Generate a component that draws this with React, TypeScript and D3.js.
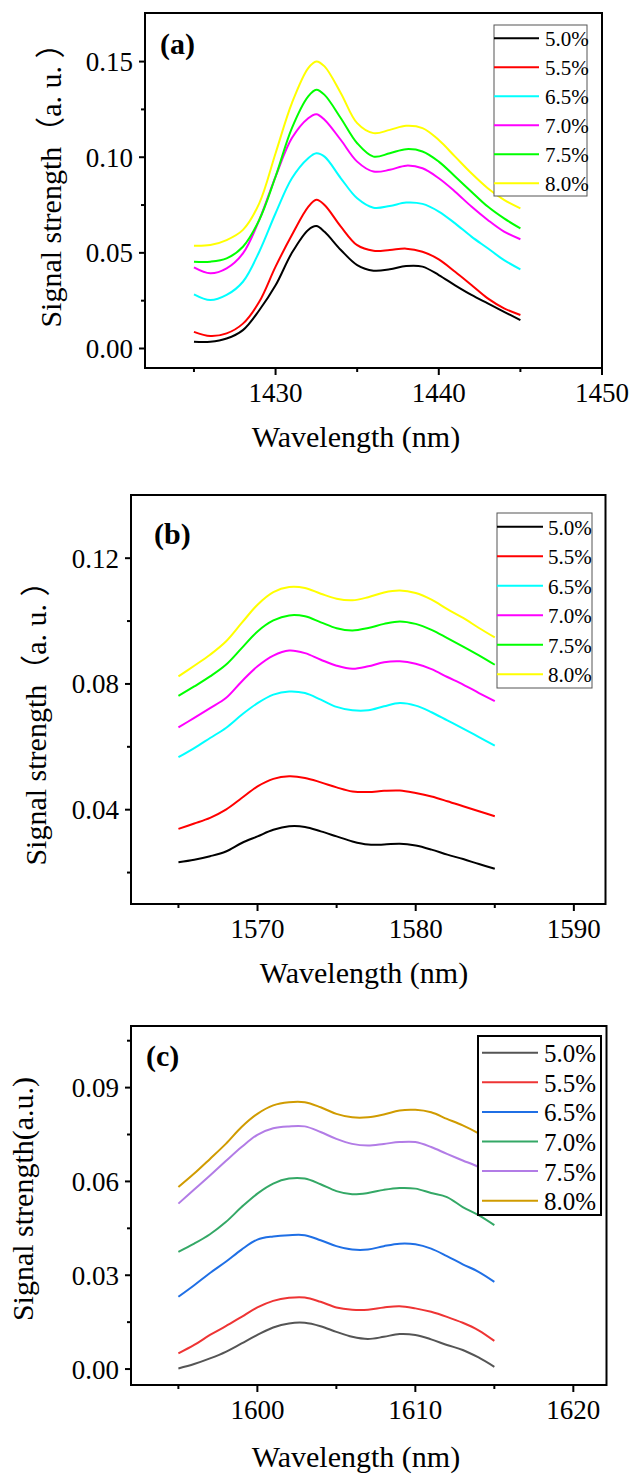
import React from 'react';
import * as d3 from 'd3';

// legend labels (same for every panel)
const concentrations = ['5.0%', '5.5%', '6.5%', '7.0%', '7.5%', '8.0%'];
const colorsAB = ['#000000', '#ff0000', '#00ffff', '#ff00ff', '#00ff00', '#ffff00'];
const colorsC = ['#555555', '#ee3434', '#1f6fe5', '#34a866', '#b27ce6', '#d09b00'];

// panel (a) 1425-1445 nm
const wavelengthA = [1425, 1426, 1427, 1428, 1429, 1430, 1431, 1432, 1432.5, 1433, 1434, 1435, 1436, 1437, 1438, 1439, 1440, 1441, 1442, 1443, 1444, 1445];
const a50 = [0.0035, 0.0035, 0.0052, 0.0096, 0.020, 0.033, 0.050, 0.062, 0.064, 0.061, 0.0515, 0.0436, 0.0407, 0.0414, 0.0431, 0.0428, 0.0384, 0.033, 0.028, 0.0236, 0.0192, 0.0148];
const a55 = [0.0087, 0.0065, 0.0079, 0.013, 0.0244, 0.0428, 0.0593, 0.074, 0.0777, 0.075, 0.0637, 0.054, 0.0511, 0.0515, 0.0522, 0.0506, 0.0466, 0.0401, 0.0332, 0.0262, 0.021, 0.0175];
const a65 = [0.0283, 0.0253, 0.028, 0.0349, 0.0506, 0.0707, 0.089, 0.0995, 0.1021, 0.1003, 0.089, 0.0785, 0.0736, 0.0745, 0.0763, 0.0756, 0.0716, 0.0654, 0.0585, 0.0524, 0.0462, 0.0414];
const a70 = [0.0424, 0.0393, 0.0419, 0.0497, 0.0672, 0.0899, 0.11, 0.1204, 0.1225, 0.1196, 0.109, 0.0977, 0.0925, 0.0934, 0.0956, 0.0942, 0.089, 0.082, 0.0742, 0.0672, 0.0611, 0.0571];
const a75 = [0.0454, 0.0454, 0.0471, 0.0532, 0.0672, 0.0899, 0.1152, 0.1318, 0.1353, 0.1326, 0.1204, 0.1073, 0.1003, 0.1021, 0.1042, 0.103, 0.0977, 0.0899, 0.082, 0.0742, 0.068, 0.0628];
const a80 = [0.0537, 0.0541, 0.0567, 0.062, 0.0759, 0.1021, 0.1283, 0.1466, 0.1501, 0.1475, 0.1335, 0.1178, 0.1126, 0.1143, 0.1164, 0.1152, 0.109, 0.1003, 0.0916, 0.0838, 0.0777, 0.0733];

// panel (b) 1565-1585 nm
const wavelengthB = d3.range(1565, 1586);
const b50 = [0.0233, 0.0241, 0.0252, 0.0267, 0.0294, 0.0315, 0.0336, 0.0347, 0.0345, 0.0331, 0.0315, 0.0299, 0.0289, 0.0289, 0.0292, 0.0286, 0.0273, 0.0257, 0.0243, 0.0227, 0.0212];
const b55 = [0.0339, 0.0356, 0.0374, 0.04, 0.0437, 0.0474, 0.0498, 0.0506, 0.0501, 0.0487, 0.0471, 0.0458, 0.0456, 0.046, 0.0461, 0.0453, 0.0442, 0.0427, 0.0411, 0.0395, 0.0379];
const b65 = [0.0567, 0.0596, 0.0628, 0.066, 0.0702, 0.0739, 0.0766, 0.0776, 0.0771, 0.075, 0.0727, 0.0716, 0.0716, 0.0729, 0.0739, 0.0731, 0.071, 0.0684, 0.0658, 0.0631, 0.0604];
const b70 = [0.0662, 0.0692, 0.0723, 0.0755, 0.0808, 0.0856, 0.089, 0.0906, 0.0898, 0.0877, 0.0858, 0.0848, 0.0856, 0.0869, 0.0872, 0.0864, 0.0847, 0.0822, 0.0798, 0.0771, 0.0745];
const b75 = [0.0762, 0.0792, 0.0824, 0.0861, 0.0914, 0.0967, 0.1002, 0.1018, 0.1015, 0.0996, 0.0977, 0.097, 0.0978, 0.0991, 0.0999, 0.0991, 0.0972, 0.0946, 0.0919, 0.0891, 0.0861];
const b80 = [0.0824, 0.0858, 0.0893, 0.0935, 0.0994, 0.1052, 0.1092, 0.1108, 0.1105, 0.1087, 0.1071, 0.1066, 0.1076, 0.1091, 0.1097, 0.1089, 0.1068, 0.1038, 0.101, 0.0978, 0.0948];

// panel (c) 1595-1615 nm
const wavelengthC = d3.range(1595, 1616);
const c50 = [0.0002, 0.0016, 0.0034, 0.0055, 0.0082, 0.0109, 0.0133, 0.0146, 0.0148, 0.0137, 0.0119, 0.0103, 0.0096, 0.0103, 0.0112, 0.0109, 0.0095, 0.0077, 0.0061, 0.0037, 0.0007];
const c55 = [0.005, 0.0077, 0.0109, 0.0137, 0.0167, 0.0197, 0.0218, 0.0228, 0.0229, 0.0215, 0.0197, 0.019, 0.019, 0.0197, 0.0201, 0.0194, 0.0183, 0.0167, 0.0148, 0.0124, 0.009];
const c65 = [0.0231, 0.0268, 0.0307, 0.0343, 0.0382, 0.0414, 0.0424, 0.0428, 0.0428, 0.0412, 0.0393, 0.0382, 0.0382, 0.0393, 0.0401, 0.0399, 0.0385, 0.0361, 0.0335, 0.0311, 0.0279];
const c70 = [0.0375, 0.0401, 0.0431, 0.047, 0.0518, 0.0561, 0.0593, 0.0609, 0.0609, 0.0591, 0.0569, 0.0559, 0.0563, 0.0573, 0.0579, 0.0577, 0.0563, 0.055, 0.0518, 0.0492, 0.046];
const c75 = [0.0529, 0.0574, 0.0619, 0.0665, 0.071, 0.0749, 0.077, 0.0776, 0.0776, 0.0758, 0.0736, 0.072, 0.0715, 0.072, 0.0726, 0.0726, 0.071, 0.0688, 0.0667, 0.0646, 0.0614];
const c80 = [0.0582, 0.0625, 0.0672, 0.072, 0.0774, 0.0816, 0.0843, 0.0853, 0.0853, 0.0837, 0.0816, 0.0805, 0.0805, 0.0814, 0.0827, 0.0829, 0.0821, 0.08, 0.0779, 0.0754, 0.0726];

const FONT = "'Liberation Serif', 'Noto Sans CJK SC', serif";

const panels = [
    {
        tag: '(a)', tagPos: [160, 54],
        frame: {left: 145, top: 13, right: 602, bottom: 368},
        xDomain: [1422, 1450], xMajor: [1430, 1440, 1450], xMinor: [1425, 1435, 1445],
        yDomain: [-0.0102, 0.1754], yMajor: [0, 0.05, 0.10, 0.15], yMinor: [0.025, 0.075, 0.125],
        yTitle: 'Signal strength（a. u. ）', yTitlePos: [61, 178],
        xTitlePos: [356, 447],
        wavelength: wavelengthA, series: [a50, a55, a65, a70, a75, a80], colors: colorsAB,
        legend: {x: 494, y: 25, w: 93, h: 171, row0: 38.3, step: 29, lineX0: 494, lineX1: 539, textX: 545, font: 21, border: '#555', borderW: 1},
    },
    {
        tag: '(b)', tagPos: [154, 544],
        frame: {left: 131, top: 495, right: 605.5, bottom: 904},
        xDomain: [1562, 1592], xMajor: [1570, 1580, 1590], xMinor: [1565, 1575, 1585],
        yDomain: [0.010, 0.1401], yMajor: [0.04, 0.08, 0.12], yMinor: [0.02, 0.06, 0.10],
        yTitle: 'Signal strength（a. u. ）', yTitlePos: [46, 716],
        xTitlePos: [364, 983],
        wavelength: wavelengthB, series: [b50, b55, b65, b70, b75, b80], colors: colorsAB,
        legend: {x: 497, y: 513, w: 95, h: 175, row0: 526.7, step: 29.5, lineX0: 497, lineX1: 543, textX: 548, font: 21, border: '#555', borderW: 1},
    },
    {
        tag: '(c)', tagPos: [146, 1066],
        frame: {left: 131, top: 1026, right: 606.5, bottom: 1385},
        xDomain: [1592, 1622.1], xMajor: [1600, 1610, 1620], xMinor: [1595, 1605, 1615],
        yDomain: [-0.0051, 0.1097], yMajor: [0, 0.03, 0.06, 0.09], yMinor: [0.015, 0.045, 0.075, 0.105],
        yTitle: 'Signal strength(a.u.)', yTitlePos: [33, 1199],
        xTitlePos: [356, 1467],
        wavelength: wavelengthC, series: [c50, c55, c65, c70, c75, c80], colors: colorsC,
        legend: {x: 478, y: 1036, w: 123, h: 179, row0: 1052.7, step: 29.6, lineX0: 482, lineX1: 538, textX: 544, font: 25, border: '#000', borderW: 2},
    },
];

function Panel({p}) {
    const f = p.frame;
    const x = d3.scaleLinear().domain(p.xDomain).range([f.left, f.right]);
    const y = d3.scaleLinear().domain(p.yDomain).range([f.bottom, f.top]);
    const line = d3.line()
        .x((d) => x(d[0]))
        .y((d) => y(d[1]))
        .curve(d3.curveCatmullRom.alpha(0.5));
    const fmt = d3.format('.2f');
    const lg = p.legend;

    return (
        <g>
            {/* curves */}
            {p.series.map((vals, i) => (
                <path key={i} d={line(p.wavelength.map((w, j) => [w, vals[j]]))}
                    fill="none" stroke={p.colors[i]} strokeWidth={2} />
            ))}

            {/* frame */}
            <rect x={f.left} y={f.top} width={f.right - f.left} height={f.bottom - f.top}
                fill="none" stroke="#000" strokeWidth={2} />

            {/* x ticks */}
            {p.xMajor.map((t) => (
                <g key={'xm' + t}>
                    <line x1={x(t)} x2={x(t)} y1={f.bottom} y2={f.bottom + 7} stroke="#000" strokeWidth={2} />
                    <text x={x(t)} y={f.bottom + 34} textAnchor="middle" fontSize={27} fontFamily={FONT}>{t}</text>
                </g>
            ))}
            {p.xMinor.map((t) => (
                <line key={'xn' + t} x1={x(t)} x2={x(t)} y1={f.bottom} y2={f.bottom + 4} stroke="#000" strokeWidth={2} />
            ))}

            {/* y ticks */}
            {p.yMajor.map((t) => (
                <g key={'ym' + t}>
                    <line x1={f.left - 6} x2={f.left} y1={y(t)} y2={y(t)} stroke="#000" strokeWidth={2} />
                    <text x={f.left - 12} y={y(t)} dy="0.35em" textAnchor="end" fontSize={27} fontFamily={FONT}>{fmt(t)}</text>
                </g>
            ))}
            {p.yMinor.map((t) => (
                <line key={'yn' + t} x1={f.left - 4} x2={f.left} y1={y(t)} y2={y(t)} stroke="#000" strokeWidth={2} />
            ))}

            {/* titles */}
            <text x={p.xTitlePos[0]} y={p.xTitlePos[1]} textAnchor="middle" fontSize={30} fontFamily={FONT}>Wavelength (nm)</text>
            <text transform={`translate(${p.yTitlePos[0]},${p.yTitlePos[1]}) rotate(-90)`}
                textAnchor="middle" fontSize={30} fontFamily={FONT}>{p.yTitle}</text>
            <text x={p.tagPos[0]} y={p.tagPos[1]} fontSize={30} fontWeight="bold" fontFamily={FONT}>{p.tag}</text>

            {/* legend */}
            <rect x={lg.x} y={lg.y} width={lg.w} height={lg.h} fill="#fff" stroke={lg.border} strokeWidth={lg.borderW} />
            {concentrations.map((c, i) => {
                const ry = lg.row0 + i * lg.step;
                return (
                    <g key={c}>
                        <line x1={lg.lineX0} x2={lg.lineX1} y1={ry} y2={ry} stroke={p.colors[i]} strokeWidth={2} />
                        <text x={lg.textX} y={ry} dy="0.38em" fontSize={lg.font} fontFamily={FONT}>{c}</text>
                    </g>
                );
            })}
        </g>
    );
}

export default function App() {
    return (
        <svg width={630} height={1479} style={{position: 'absolute', left: 0, top: 0, background: '#fff'}}>
            <rect x={0} y={0} width={630} height={1479} fill="#fff" />
            {panels.map((p) => <Panel key={p.tag} p={p} />)}
        </svg>
    );
}
